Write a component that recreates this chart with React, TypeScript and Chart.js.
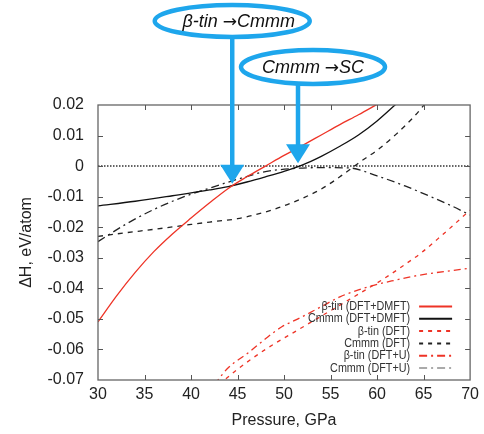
import React, { useEffect, useRef } from "react";
import { Chart, registerables } from "chart.js";
Chart.register(...registerables);

// ---- data (pressure in GPa, enthalpy difference in eV/atom) ----
const btinDmftP = [30, 32, 34, 36, 38, 40, 42, 44, 46, 48, 50, 52, 54, 56, 58, 60];
const btinDmftH = [-0.051, -0.0425, -0.0348, -0.028, -0.0222, -0.017, -0.012, -0.0073, -0.0035, 0, 0.0035, 0.0068, 0.0102, 0.0136, 0.0168, 0.0202];

const cmmmDmftP = [30, 34, 38, 42, 44, 46, 48, 50, 52, 54, 56, 58, 60, 62];
const cmmmDmftH = [-0.013, -0.0115, -0.0097, -0.0078, -0.0067, -0.0052, -0.0035, -0.0017, 0.0004, 0.0032, 0.0065, 0.0102, 0.0148, 0.0202];

const btinDftP = [43, 45, 48, 51.5, 54, 57, 60.8, 62.9, 64.7, 66.8, 70];
const btinDftH = [-0.0715, -0.0665, -0.06, -0.0536, -0.0491, -0.0437, -0.0367, -0.0324, -0.0285, -0.0231, -0.0144];

const cmmmDftP = [30, 33, 36, 39, 42, 45, 48, 50, 52, 54, 56, 58, 60, 62, 64, 66];
const cmmmDftH = [-0.023, -0.0218, -0.0207, -0.0195, -0.0183, -0.0172, -0.015, -0.013, -0.0105, -0.0075, -0.0035, 0.001, 0.0052, 0.0103, 0.0163, 0.0235];

const btinUP = [42.5, 44, 46.2, 48, 49.8, 51.5, 54, 56, 58, 60, 62, 64, 66, 68, 70];
const btinUH = [-0.0715, -0.066, -0.061, -0.0565, -0.0525, -0.05, -0.046, -0.0428, -0.0405, -0.0387, -0.0373, -0.036, -0.035, -0.0342, -0.0334];

const cmmmUP = [30, 33, 36, 39, 42, 45, 48, 51, 54, 57, 60, 63, 66, 68, 70];
const cmmmUH = [-0.0247, -0.019, -0.0142, -0.0103, -0.0072, -0.0043, -0.0018, -0.0008, -0.0005, -0.0006, -0.0032, -0.0065, -0.0103, -0.013, -0.016];

const zeroLineP = [30, 70];
const zeroLineH = [0, 0];

const seriesLabels = ["β-tin (DFT+DMFT)", "Cmmm (DFT+DMFT)", "β-tin (DFT)", "Cmmm (DFT)", "β-tin (DFT+U)", "Cmmm (DFT+U)"];

const xTicks = [30, 35, 40, 45, 50, 55, 60, 65, 70];
const xTickLabels = ["30", "35", "40", "45", "50", "55", "60", "65", "70"];
const yTicks = [-0.07, -0.06, -0.05, -0.04, -0.03, -0.02, -0.01, 0, 0.01, 0.02];
const yTickLabels = ["-0.07", "-0.06", "-0.05", "-0.04", "-0.03", "-0.02", "-0.01", "0", "0.01", "0.02"];

const transitionFrom = ["β-tin", "Cmmm"];
const transitionTo = ["Cmmm", "SC"];
const transitionP = [44.43, 51.5];
const transitionH = [-0.0058, 0.0009];

const FONT = '"Liberation Sans", Arial, Helvetica, sans-serif';
const RED = "#ee3326";
const BLUE = "#1ea6ec";

const pts = (xs: number[], ys: number[]) => xs.map((x, i) => ({ x, y: ys[i] }));

const decorPlugin = {
  id: "decor",
  afterDraw(chart: any) {
    const { ctx, chartArea: a, scales } = chart;
    const xs = scales.x;
    const ys = scales.y;
    ctx.save();
    // frame
    ctx.strokeStyle = "#666";
    ctx.lineWidth = 1.3;
    ctx.setLineDash([]);
    ctx.strokeRect(a.left, a.top, a.right - a.left, a.bottom - a.top);
    // inward ticks (mirrored)
    ctx.beginPath();
    ctx.lineWidth = 1;
    ctx.strokeStyle = "#555";
    xTicks.slice(1, -1).forEach((v) => {
      const px = Math.round(xs.getPixelForValue(v)) + 0.5;
      ctx.moveTo(px, a.bottom);
      ctx.lineTo(px, a.bottom - 5);
      ctx.moveTo(px, a.top);
      ctx.lineTo(px, a.top + 5);
    });
    yTicks.slice(1, -1).forEach((v) => {
      const py = Math.round(ys.getPixelForValue(v)) + 0.5;
      ctx.moveTo(a.left, py);
      ctx.lineTo(a.left + 5, py);
      ctx.moveTo(a.right, py);
      ctx.lineTo(a.right - 5, py);
    });
    ctx.stroke();

    // legend
    const dsList = chart.data.datasets.filter((d: any) => seriesLabels.includes(d.label));
    const n = dsList.length;
    dsList.forEach((d: any, i: number) => {
      const yy = a.bottom - 12 - (n - 1 - i) * 12.3;
      ctx.save();
      ctx.font = `13px ${FONT}`;
      ctx.fillStyle = "#333";
      ctx.textAlign = "right";
      ctx.textBaseline = "middle";
      ctx.translate(a.right - 60, yy);
      ctx.scale(0.83, 1);
      ctx.fillText(d.label, 0, 0);
      ctx.restore();
      ctx.beginPath();
      ctx.strokeStyle = d.legendColor || d.borderColor;
      ctx.lineWidth = 2;
      ctx.setLineDash(d.legendDash || d.borderDash || []);
      ctx.moveTo(a.right - 51, yy);
      ctx.lineTo(a.right - 18, yy);
      ctx.stroke();
    });
    ctx.setLineDash([]);

    // transition annotations
    const ellipses = [
      { dx: 0, dyTop: -84, rx: 77.5, ry: 16, tdx: 6.5 },
      { dx: 15, dyTop: -38, rx: 72, ry: 17, tdx: 15 },
    ];
    transitionFrom.forEach((from, i) => {
      const px = xs.getPixelForValue(transitionP[i]);
      const tipY = ys.getPixelForValue(transitionH[i]);
      const e = ellipses[i];
      const cx = px + e.dx;
      const cy = a.top + e.dyTop;
      ctx.strokeStyle = BLUE;
      ctx.fillStyle = BLUE;
      ctx.lineWidth = 4.5;
      ctx.beginPath();
      ctx.ellipse(cx, cy, e.rx, e.ry, 0, 0, Math.PI * 2);
      ctx.stroke();
      // shaft
      const headH = 19;
      ctx.beginPath();
      ctx.moveTo(px, cy + e.ry + 1);
      ctx.lineTo(px, tipY - headH + 1);
      ctx.stroke();
      // head
      ctx.beginPath();
      ctx.moveTo(px - 12, tipY - headH);
      ctx.lineTo(px + 12, tipY - headH);
      ctx.lineTo(px, tipY);
      ctx.closePath();
      ctx.fill();
      // text: "from →to"
      const fItal = `italic 18px ${FONT}`;
      const fArrow = `17px "DejaVu Sans", sans-serif`;
      const t1 = from + " ";
      const t2 = "→";
      const t3 = transitionTo[i];
      ctx.font = fItal;
      const w1 = ctx.measureText(t1).width;
      const w3 = ctx.measureText(t3).width;
      ctx.font = fArrow;
      const w2 = ctx.measureText(t2).width;
      const total = w1 + w2 + w3;
      let tx = px + e.tdx - total / 2;
      const ty = cy + 1;
      ctx.fillStyle = "#111";
      ctx.textAlign = "left";
      ctx.textBaseline = "middle";
      ctx.font = fItal;
      ctx.fillText(t1, tx, ty);
      tx += w1;
      ctx.font = fArrow;
      ctx.fillText(t2, tx, ty + 1);
      tx += w2;
      ctx.font = fItal;
      ctx.fillText(t3, tx, ty);
    });
    ctx.restore();
  },
};

export default function App() {
  const ref = useRef<HTMLCanvasElement>(null);
  useEffect(() => {
    if (!ref.current) return;
    Chart.defaults.font.family = FONT;
    const common = { pointRadius: 0, borderWidth: 1.3, cubicInterpolationMode: "monotone", fill: false };
    const chart = new Chart(ref.current, {
      type: "line",
      data: {
        datasets: [
          { ...common, label: seriesLabels[0], data: pts(btinDmftP, btinDmftH), borderColor: RED, borderDash: [] },
          { ...common, label: seriesLabels[1], data: pts(cmmmDmftP, cmmmDmftH), borderColor: "#111", borderDash: [] },
          { ...common, label: seriesLabels[2], data: pts(btinDftP, btinDftH), borderColor: RED, borderDash: [4, 5], legendDash: [4, 5] },
          { ...common, label: seriesLabels[3], data: pts(cmmmDftP, cmmmDftH), borderColor: "#222", borderDash: [5, 5], legendDash: [4, 5] },
          { ...common, label: seriesLabels[4], data: pts(btinUP, btinUH), borderColor: RED, borderDash: [7, 4, 2, 4], legendDash: [8, 4, 2, 4] },
          { ...common, label: seriesLabels[5], data: pts(cmmmUP, cmmmUH), borderColor: "#222", borderDash: [8, 4, 2, 4], legendColor: "#aaa", legendDash: [8, 4, 2, 4] },
          { ...common, label: "zero", data: pts(zeroLineP, zeroLineH), borderColor: "#333", borderWidth: 1.5, borderDash: [1.5, 1.5], cubicInterpolationMode: "default" },
        ] as any,
      },
      options: {
        animation: false,
        responsive: false,
        devicePixelRatio: 1,
        layout: { padding: { top: 105, right: 11, left: 0, bottom: 0 } },
        plugins: { legend: { display: false }, tooltip: { enabled: false } },
        scales: {
          x: {
            type: "linear",
            min: 30,
            max: 70,
            afterBuildTicks: (s: any) => {
              s.ticks = xTicks.map((v) => ({ value: v }));
            },
            afterFit: (s: any) => {
              s.height = 54;
            },
            grid: { display: false, drawTicks: false },
            border: { display: false },
            ticks: {
              autoSkip: false,
              maxRotation: 0,
              padding: 5,
              color: "#222",
              font: { size: 16 },
              callback: (v: any) => {
                const i = xTicks.findIndex((t) => Math.abs(t - v) < 1e-9);
                return i >= 0 ? xTickLabels[i] : "";
              },
            },
            title: { display: true, text: "Pressure, GPa", color: "#222", font: { size: 16 }, padding: { top: 0, bottom: 4 } },
          },
          y: {
            type: "linear",
            min: -0.07,
            max: 0.02,
            afterBuildTicks: (s: any) => {
              s.ticks = yTicks.map((v) => ({ value: v }));
            },
            afterFit: (s: any) => {
              s.width = 98;
            },
            grid: { display: false, drawTicks: false },
            border: { display: false },
            ticks: {
              autoSkip: false,
              padding: 14,
              color: "#222",
              font: { size: 16 },
              callback: (v: any) => {
                const i = yTicks.findIndex((t) => Math.abs(t - v) < 1e-9);
                return i >= 0 ? yTickLabels[i] : "";
              },
            },
            title: { display: true, text: "ΔH, eV/atom", color: "#222", font: { size: 16 }, padding: { top: 17, bottom: 0 } },
          },
        },
      } as any,
      plugins: [decorPlugin],
    });
    return () => chart.destroy();
  }, []);
  return (
    <div style={{ position: "fixed", left: 0, top: 0, width: 484, height: 434, background: "#fff" }}>
      <canvas ref={ref} width={484} height={434} style={{ display: "block" }} />
    </div>
  );
}
